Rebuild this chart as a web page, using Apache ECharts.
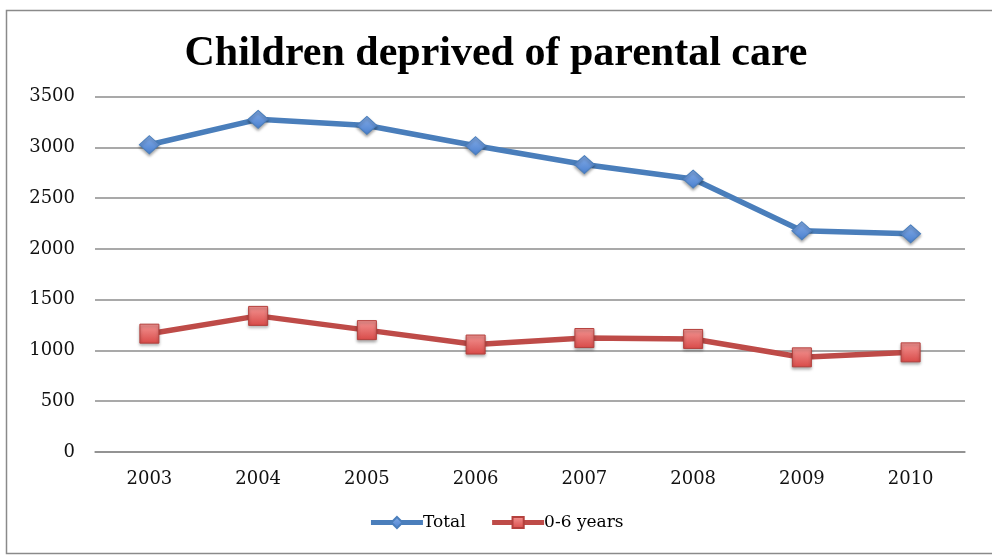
<!DOCTYPE html>
<html>
<head>
<meta charset="utf-8">
<script src="https://cdn.jsdelivr.net/npm/echarts@6/dist/echarts.min.js"></script>
<style>
html,body{margin:0;padding:0;background:#fff;}
#c{width:992px;height:556px;}
</style>
</head>
<body>
<div id="c"></div>
<script>
const years = ['2003','2004','2005','2006','2007','2008','2009','2010'];
const totalValues = [3025, 3275, 3215, 3015, 2830, 2687, 2178, 2148];
const youngValues = [1165, 1340, 1200, 1058, 1122, 1113, 932, 981];
const yTicks = {min: 0, max: 3500, interval: 500};
const titleText = 'Children deprived of parental care';

const chart = echarts.init(document.getElementById('c'), null, {renderer: 'canvas'});
const serif = '"DejaVu Serif", "Liberation Serif", serif';
const blue = '#4A7EBB', red = '#BE4B48';
const blueFill = new echarts.graphic.LinearGradient(0,0,0,1,[{offset:0,color:'#85ade8'},{offset:1,color:'#4a80cf'}]);
const redFill = new echarts.graphic.LinearGradient(0,0,0,1,[{offset:0,color:'#f49694'},{offset:1,color:'#d84a48'}]);
chart.setOption({
  animation: false,
  backgroundColor: '#ffffff',
  graphic: [{
    type: 'rect', left: 4, top: 8, silent: true,
    shape: {x: 0, y: 0, width: 1000, height: 543},
    style: {fill: 'none', stroke: '#8a8a8a', lineWidth: 1.5}
  }],
  title: {
    text: titleText, left: 'center', top: 28,
    textStyle: {fontFamily: '"Liberation Serif", serif', fontWeight: 'bold', fontSize: 42, color: '#000'}
  },
  legend: {
    bottom: 20, left: 'center', itemWidth: 52, itemHeight: 14, itemGap: 24,
    textStyle: {fontFamily: serif, fontSize: 17, color: '#000', padding: [0,0,0,-5]},
    data: [
      {name: 'Total', lineStyle: {width: 5, color: blue}},
      {name: '0-6 years', lineStyle: {width: 5, color: red}}
    ]
  },
  grid: {left: 95, right: 27, top: 96.5, bottom: 104, containLabel: false},
  xAxis: {
    type: 'category', data: years, boundaryGap: true,
    axisLine: {show: true, lineStyle: {color: '#8c8c8c', width: 1.5}},
    axisTick: {show: false},
    axisLabel: {margin: 18, fontFamily: serif, fontSize: 18, color: '#111'}
  },
  yAxis: {
    type: 'value', min: yTicks.min, max: yTicks.max, interval: yTicks.interval,
    axisLine: {show: false}, axisTick: {show: false},
    splitLine: {lineStyle: {color: '#8c8c8c', width: 1.5}},
    axisLabel: {margin: 20, fontFamily: serif, fontSize: 18, color: '#111', formatter: v => String(v)}
  },
  series: [{
    name: 'Total', type: 'line', data: totalValues,
    symbol: 'diamond', symbolSize: [20, 18],
    lineStyle: {color: blue, width: 5.5},
    itemStyle: {
      color: blueFill, borderColor: blue, borderWidth: 1,
      shadowColor: 'rgba(0,0,0,0.35)', shadowBlur: 3, shadowOffsetY: 2
    },
    z: 3
  }, {
    name: '0-6 years', type: 'line', data: youngValues,
    symbol: 'rect', symbolSize: 19,
    lineStyle: {color: red, width: 5.5},
    itemStyle: {
      color: redFill, borderColor: '#B4403D', borderWidth: 1,
      shadowColor: 'rgba(0,0,0,0.35)', shadowBlur: 3, shadowOffsetY: 2
    },
    z: 3
  }]
});
</script>
</body>
</html>
